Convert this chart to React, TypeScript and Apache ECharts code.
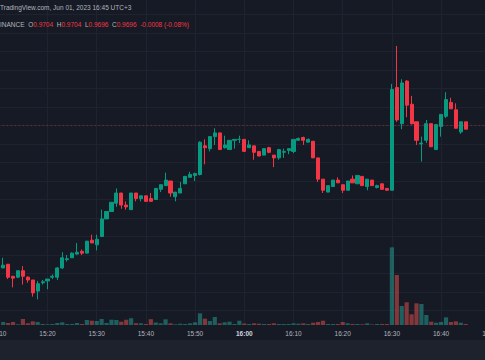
import React, { useEffect, useRef } from "react";
import * as echarts from "echarts";

// ---- data (1-minute candles, 15:11 .. 16:45) ----
const FIRST_TIME = "15:11";
const AXIS_START = "15:10";
const AXIS_END = "16:50";

const opens = [
  0.9546, 0.9550, 0.9537, 0.9536, 0.9543, 0.9536, 0.9533, 0.9521, 0.9530, 0.9532,
  0.9536, 0.9536, 0.9546, 0.9555, 0.9557, 0.9561, 0.9564, 0.9562, 0.9576, 0.9571,
  0.9580, 0.9599, 0.9607, 0.9616, 0.9627, 0.9614, 0.9609, 0.9627, 0.9621, 0.9624,
  0.9621, 0.9620, 0.9631, 0.9635, 0.9640, 0.9623, 0.9627, 0.9637, 0.9644, 0.9646,
  0.9647, 0.9678, 0.9675, 0.9688, 0.9692, 0.9676, 0.9674, 0.9684, 0.9685, 0.9685,
  0.9676, 0.9678, 0.9672, 0.9668, 0.9676, 0.9668, 0.9665, 0.9671, 0.9673, 0.9672,
  0.9684, 0.9687, 0.9682, 0.9683, 0.9665, 0.9642, 0.9628, 0.9634, 0.9641, 0.9636,
  0.9630, 0.9642, 0.9637, 0.9645, 0.9634, 0.9641, 0.9633, 0.9637, 0.9632, 0.9630,
  0.9741, 0.9702, 0.9748, 0.9723, 0.9704, 0.9680, 0.9684, 0.9702, 0.9674, 0.9699,
  0.9710, 0.9725, 0.9717, 0.9693, 0.9704,
];
const closes = [
  0.9549, 0.9536, 0.9535, 0.9543, 0.9537, 0.9533, 0.9519, 0.9529, 0.9531, 0.9534,
  0.9537, 0.9546, 0.9557, 0.9556, 0.9562, 0.9563, 0.9562, 0.9575, 0.9573, 0.9577,
  0.9599, 0.9607, 0.9617, 0.9627, 0.9614, 0.9612, 0.9627, 0.9621, 0.9624, 0.9618,
  0.9618, 0.9632, 0.9636, 0.9641, 0.9627, 0.9628, 0.9632, 0.9645, 0.9647, 0.9648,
  0.9682, 0.9676, 0.9688, 0.9692, 0.9674, 0.9679, 0.9684, 0.9685, 0.9685, 0.9672,
  0.9679, 0.9671, 0.9667, 0.9675, 0.9671, 0.9665, 0.9674, 0.9672, 0.9675, 0.9685,
  0.9686, 0.9684, 0.9685, 0.9665, 0.9642, 0.9630, 0.9635, 0.9641, 0.9638, 0.9630,
  0.9640, 0.9638, 0.9646, 0.9635, 0.9642, 0.9635, 0.9635, 0.9631, 0.9630, 0.9739,
  0.9706, 0.9746, 0.9722, 0.9702, 0.9684, 0.9681, 0.9702, 0.9677, 0.9701, 0.9712,
  0.9728, 0.9718, 0.9697, 0.9704, 0.9696,
];
const lows = [
  0.9546, 0.9534, 0.9525, 0.9535, 0.9528, 0.9530, 0.9515, 0.9512, 0.9528, 0.9523,
  0.9534, 0.9533, 0.9545, 0.9553, 0.9557, 0.9560, 0.9560, 0.9562, 0.9573, 0.9565,
  0.9580, 0.9599, 0.9607, 0.9612, 0.9610, 0.9609, 0.9609, 0.9618, 0.9618, 0.9618,
  0.9618, 0.9620, 0.9628, 0.9635, 0.9623, 0.9618, 0.9627, 0.9637, 0.9644, 0.9640,
  0.9646, 0.9658, 0.9672, 0.9679, 0.9674, 0.9675, 0.9674, 0.9675, 0.9681, 0.9672,
  0.9676, 0.9663, 0.9667, 0.9668, 0.9670, 0.9655, 0.9663, 0.9665, 0.9669, 0.9670,
  0.9684, 0.9679, 0.9682, 0.9665, 0.9639, 0.9627, 0.9628, 0.9634, 0.9638, 0.9627,
  0.9630, 0.9638, 0.9637, 0.9635, 0.9630, 0.9635, 0.9632, 0.9631, 0.9630, 0.9630,
  0.9704, 0.9696, 0.9709, 0.9701, 0.9679, 0.9661, 0.9681, 0.9677, 0.9674, 0.9688,
  0.9708, 0.9718, 0.9697, 0.9691, 0.9696,
];
const highs = [
  0.9557, 0.9550, 0.9537, 0.9543, 0.9548, 0.9537, 0.9533, 0.9532, 0.9533, 0.9534,
  0.9539, 0.9547, 0.9563, 0.9560, 0.9563, 0.9573, 0.9566, 0.9575, 0.9582, 0.9582,
  0.9609, 0.9607, 0.9617, 0.9632, 0.9627, 0.9618, 0.9627, 0.9627, 0.9624, 0.9624,
  0.9627, 0.9632, 0.9636, 0.9649, 0.9640, 0.9628, 0.9639, 0.9645, 0.9650, 0.9649,
  0.9683, 0.9685, 0.9688, 0.9697, 0.9692, 0.9689, 0.9684, 0.9685, 0.9689, 0.9685,
  0.9684, 0.9678, 0.9672, 0.9675, 0.9677, 0.9668, 0.9674, 0.9675, 0.9675, 0.9685,
  0.9687, 0.9688, 0.9686, 0.9683, 0.9665, 0.9642, 0.9635, 0.9641, 0.9644, 0.9636,
  0.9640, 0.9646, 0.9646, 0.9645, 0.9642, 0.9641, 0.9636, 0.9637, 0.9632, 0.9745,
  0.9786, 0.9750, 0.9749, 0.9732, 0.9704, 0.9688, 0.9706, 0.9702, 0.9701, 0.9712,
  0.9736, 0.9730, 0.9724, 0.9704, 0.9704,
];
const volumes = [
  30, 20, 30, 7, 60, 17, 37, 30, 10, 7,
  10, 20, 27, 10, 10, 20, 10, 50, 43, 40,
  60, 20, 53, 50, 33, 53, 68, 18, 17, 10,
  58, 25, 17, 57, 17, 7, 13, 10, 17, 27,
  117, 63, 40, 80, 17, 27, 33, 10, 43, 15,
  10, 17, 13, 10, 10, 17, 10, 10, 10, 17,
  13, 17, 10, 23, 30, 43, 10, 10, 10, 30,
  17, 10, 10, 7, 17, 5, 10, 10, 10, 777,
  500, 190, 227, 107, 217, 210, 100, 33, 23, 30,
  77, 30, 37, 23, 10,
];
const LAST_PRICE = 0.9696;
const HEADER_TITLE = "TradingView.com, Jun 01, 2023 16:45 UTC+3";
const HEADER_SYMBOL = "INANCE";
const HEADER_VALUES = { O: "0.9704", H: "0.9704", L: "0.9696", C: "0.9696", change: "-0.0008 (-0.08%)" };

// ---- helpers ----
const toMinutes = (t: string) => {
  const [h, m] = t.split(":").map(Number);
  return (h - 15) * 60 + m;
};
const fmtTime = (v: number) => {
  const h = 15 + Math.floor(v / 60);
  const m = Math.round(v % 60);
  return `${h}:${String(m).padStart(2, "0")}`;
};
const firstMin = toMinutes(FIRST_TIME);
const times = opens.map((_, i) => fmtTime(firstMin + i));

const UP = "#089981";
const DOWN = "#f23645";
const VUP = "rgba(38,166,154,0.5)";
const VDOWN = "rgba(239,83,80,0.5)";
const BG = "#161a25";
const GRIDC = "#1f2331";
const FONT = "Liberation Sans, Arial, sans-serif";

export default function App() {
  const ref = useRef<HTMLDivElement>(null);
  useEffect(() => {
    document.body.style.margin = "0";
    document.body.style.background = BG;
    if (!ref.current) return;
    const chart = echarts.init(ref.current, undefined, { renderer: "svg" });

    const candleData = times.map((t, i) => [toMinutes(t), opens[i], closes[i], lows[i], highs[i]]);
    const volData = times.map((t, i) => ({
      value: [toMinutes(t), volumes[i]],
      itemStyle: { color: closes[i] >= opens[i] ? VUP : VDOWN },
    }));

    const xMin = toMinutes(AXIS_START);
    const xMax = toMinutes(AXIS_END);

    chart.setOption({
      animation: false,
      backgroundColor: BG,
      textStyle: { fontFamily: FONT },
      title: [
        {
          text: HEADER_TITLE,
          left: 0,
          top: 3,
          padding: 0,
          textStyle: { fontSize: 6.5, fontWeight: "normal", color: "#b2b5be", fontFamily: FONT, lineHeight: 8 },
        },
        {
          text:
            `{g|${HEADER_SYMBOL}}  {g|O}{r|${HEADER_VALUES.O}}  {g|H}{r|${HEADER_VALUES.H}}  ` +
            `{g|L}{r|${HEADER_VALUES.L}}  {g|C}{r|${HEADER_VALUES.C}}  {r|${HEADER_VALUES.change}}`,
          left: 0,
          top: 20,
          padding: 0,
          textStyle: {
            fontSize: 6.5,
            fontWeight: "normal",
            fontFamily: FONT,
            color: "#b2b5be",
            lineHeight: 8,
            rich: {
              g: { color: "#b2b5be", fontSize: 6.5, fontFamily: FONT },
              r: { color: DOWN, fontSize: 6.5, fontFamily: FONT },
            },
          },
        },
      ],
      graphic: [
        {
          type: "rect",
          silent: true,
          shape: { x: 0, y: 340, width: 485, height: 20 },
          style: { fill: "#1e222d" },
          z: -1,
        },
      ],
      grid: [
        { left: -1.7, width: 492, top: -4, height: 314.5, containLabel: false, outerBoundsMode: "none" },
        { left: -1.7, width: 492, top: 225, height: 100, containLabel: false, outerBoundsMode: "none" },
      ],
      xAxis: [
        {
          type: "value",
          gridIndex: 0,
          min: xMin,
          max: xMax,
          interval: 10,
          axisLine: { show: false },
          axisTick: { show: false },
          axisLabel: { show: false },
          splitLine: { show: true, lineStyle: { color: GRIDC, width: 1 } },
        },
        {
          type: "value",
          gridIndex: 1,
          min: xMin,
          max: xMax,
          interval: 10,
          axisLine: { show: false },
          axisTick: { show: false },
          splitLine: { show: true, lineStyle: { color: GRIDC, width: 1 } },
          axisLabel: {
            show: true,
            showMinLabel: true,
            showMaxLabel: true,
            margin: 5,
            color: "#b2b5be",
            fontSize: 6.5,
            fontFamily: FONT,
            formatter: (v: number) => {
              const s = fmtTime(v);
              return v % 60 === 0 ? `{b|${s}}` : s;
            },
            rich: {
              b: { fontWeight: "bold", color: "#d1d4dc", fontSize: 6.5, fontFamily: FONT },
            },
          },
        },
      ],
      yAxis: [
        {
          type: "value",
          gridIndex: 0,
          min: 0.95,
          max: 0.984,
          interval: 0.002,
          axisLine: { show: false },
          axisTick: { show: false },
          axisLabel: { show: false },
          splitLine: { show: true, lineStyle: { color: GRIDC, width: 1 } },
        },
        {
          type: "value",
          gridIndex: 1,
          min: 0,
          max: 1000,
          show: false,
          splitLine: { show: false },
        },
      ],
      series: [
        {
          type: "bar",
          xAxisIndex: 1,
          yAxisIndex: 1,
          data: volData,
          barWidth: 4.2,
          z: 1,
        },
        {
          type: "candlestick",
          xAxisIndex: 0,
          yAxisIndex: 0,
          data: candleData,
          encode: { x: 0, y: [1, 2, 3, 4] },
          barWidth: 3.6,
          z: 3,
          itemStyle: {
            color: UP,
            color0: DOWN,
            borderColor: UP,
            borderColor0: DOWN,
            borderWidth: 1,
          },
          markLine: {
            silent: true,
            symbol: "none",
            label: { show: false },
            lineStyle: { color: DOWN, opacity: 0.35, type: [2, 2], width: 1 },
            data: [{ yAxis: LAST_PRICE }],
          },
        },
      ],
    });
    return () => chart.dispose();
  }, []);

  return (
    <div
      ref={ref}
      style={{ position: "fixed", left: 0, top: 0, width: 485, height: 360 }}
    />
  );
}
